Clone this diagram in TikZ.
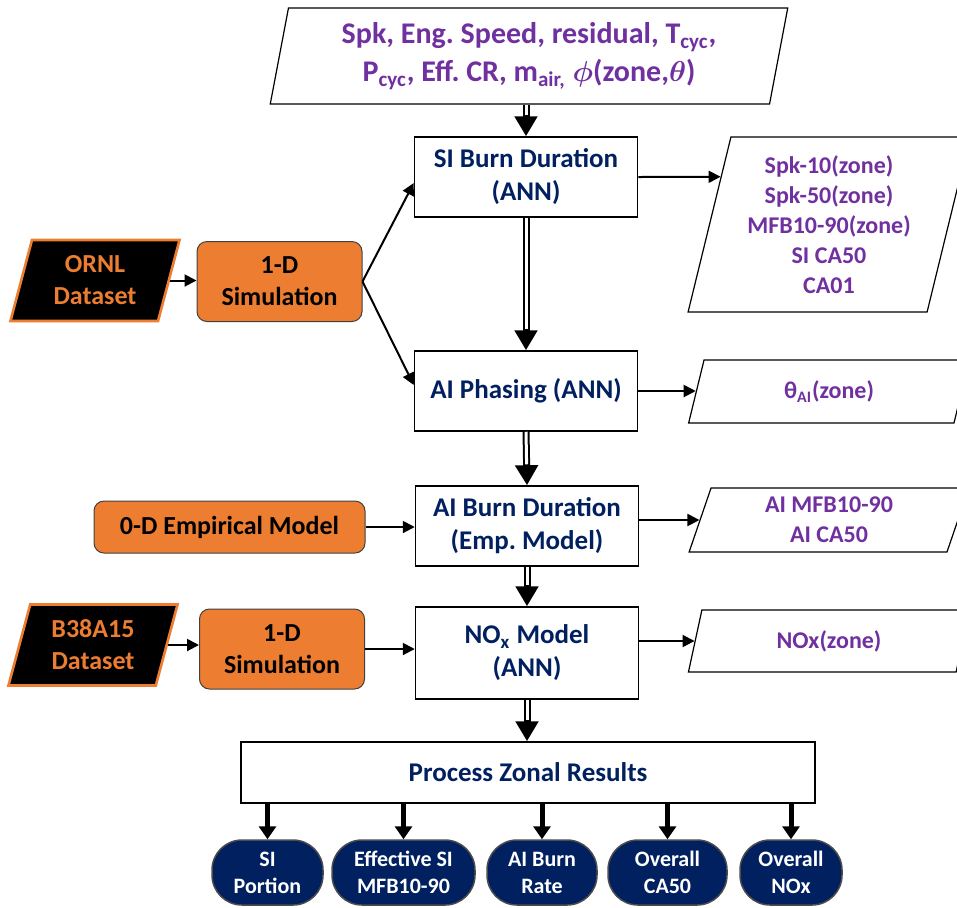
\documentclass[tikz,border=0pt]{standalone}
\usepackage{amsmath}
\usepackage{fontspec}
\setmainfont{Carlito}
\usepackage{tikz}
\usetikzlibrary{arrows.meta,calc,positioning,shapes.geometric}

\definecolor{annblue}{HTML}{002060}
\definecolor{outviolet}{HTML}{7030A0}
\definecolor{simorange}{HTML}{ED7D31}

\tikzset{
  annbox/.style={draw,line width=.75pt,fill=white,text=annblue,align=center,inner sep=0pt,
    minimum width=111.5pt,minimum height=40pt,font=\fontsize{13.5}{16.5}\selectfont\bfseries},
  simbox/.style={draw=black!75,line width=.5pt,fill=simorange,rounded corners=5pt,align=center,
    inner sep=0pt,minimum width=82.5pt,minimum height=40pt,font=\fontsize{13}{16}\selectfont\bfseries},
  datapar/.style={trapezium,trapezium left angle=74,trapezium right angle=106,trapezium stretches=true,
    draw=simorange,line width=1.3pt,fill=black,text=simorange,align=center,inner sep=0pt,
    minimum width=85pt,minimum height=40.5pt,font=\fontsize{13}{16}\selectfont\bfseries},
  outpar/.style={trapezium,trapezium left angle=75.5,trapezium right angle=104.5,trapezium stretches=true,
    draw,line width=.6pt,fill=white,text=outviolet,align=center,inner sep=0pt,
    minimum width=141pt,font=\fontsize{12}{15}\selectfont\bfseries},
  resbox/.style={draw=black!70,line width=.75pt,fill=annblue,text=white,rounded corners=15pt,align=center,
    inner sep=0pt,minimum height=32.5pt,font=\fontsize{11}{13.5}\selectfont\bfseries},
  arr/.style={line width=1pt,-{Triangle[length=6pt,width=6pt]}},
  % hollow shaft: black line with a white core stopping at the tip
  dblarr/.style={line width=3.5pt,-{Triangle[length=10pt,width=11pt]},
    postaction={draw=white,line width=1.5pt,-,shorten >=10.5pt}},
  resarr/.style={line width=2.5pt,-{Triangle[length=6.5pt,width=8.5pt]}}
}

\begin{document}
\begin{tikzpicture}[x=.5pt,y=-.5pt]
\clip (0,0) rectangle (957,907);

% inputs on top
\node[outpar,trapezium left angle=78,trapezium right angle=102,minimum width=259pt,minimum height=48pt,
  font=\fontsize{15}{19}\selectfont\bfseries] (inp) at (529,56)
  {Spk, Eng.\ Speed, residual, T\textsubscript{cyc},\\P\textsubscript{cyc}, Eff.\ CR, m\textsubscript{air,} $\boldsymbol{\phi}$(zone,$\boldsymbol{\theta}$)};

% model chain
\node[annbox] (sibd) at (526,177) {SI Burn Duration\\(ANN)};
\node[annbox] (aiph) at (526,391) {AI Phasing (ANN)};
\node[annbox] (aibd) at (527,526) {AI Burn Duration\\(Emp.\ Model)};
\node[annbox,minimum height=46pt] (nox) at (527,653) {NO\textsubscript{x} Model\\(ANN)};
\node[annbox,minimum width=287pt,minimum height=30.5pt] (proc) at (528,772.5) {Process Zonal Results};

% data sources and sub-models
\node[datapar] (ornl) at (95,280.5) {ORNL\\Dataset};
\node[simbox] (sim1) at (279.5,281.5) {1-D\\Simulation};
\node[simbox,minimum width=135.5pt,minimum height=26pt] (emp) at (229.5,527) {0-D Empirical Model};
\node[datapar] (b38) at (93,645) {B38A15\\Dataset};
\node[simbox] (sim2) at (282,649) {1-D\\Simulation};

% zonal outputs
\node[outpar,minimum height=87.5pt] (out1) at (829,224.5) {Spk-10(zone)\\Spk-50(zone)\\MFB10-90(zone)\\SI CA50\\CA01};
\node[outpar,minimum height=31.5pt] (out2) at (829,391.5) {θ\textsubscript{AI}(zone)};
\node[outpar,minimum height=32pt] (out3) at (829,520) {AI MFB10-90\\AI CA50};
\node[outpar,minimum height=31pt] (out4) at (829,641) {NOx(zone)};

\draw[dblarr] (sibd.north |- inp.south) -- (sibd.north);
\draw[dblarr] (sibd.south) -- (aiph.north);
\draw[dblarr] (aiph.south) -- (aibd.north);
\draw[dblarr] (aibd.south) -- (nox.north);
\draw[dblarr] (nox.south) -- (nox.south |- proc.north);

\draw[arr] (ornl.east) -- (ornl.east -| sim1.west);
\draw[arr] (sim1.east) -- ([yshift=-3pt]sibd.west);
\draw[arr] (sim1.east) -- ([yshift=3pt]aiph.west);
\draw[arr] (emp.east) -- (emp.east -| aibd.west);
\draw[arr] (b38.east) -- (b38.east -| sim2.west);
\draw[arr] (sim2.east) -- (sim2.east -| nox.west);

\draw[arr] (sibd.east) -- ($(out1.bottom left corner)!.771!(out1.top left corner)$);
\draw[arr] (aiph.east) -- (aiph.east -| out2.west);
\draw[arr] (aibd.east |- out3.west) -- (out3.west);
\draw[arr] (nox.east |- out4.west) -- (out4.west);

% overall results
\foreach \n/\x/\w/\t in {sip/267.5/55.5/{SI\\Portion},effsi/403.5/71.5/{Effective SI\\MFB10-90},
    aibr/542/55/{AI Burn\\Rate},oca/667.5/59.5/{Overall\\CA50},onox/791/51/{Overall\\NOx}}{
  \node[resbox,minimum width=\w pt] (\n) at (\x,872.5) {\t};
  \draw[resarr] (\n.north |- proc.south) -- (\n.north);
}
\end{tikzpicture}
\end{document}
